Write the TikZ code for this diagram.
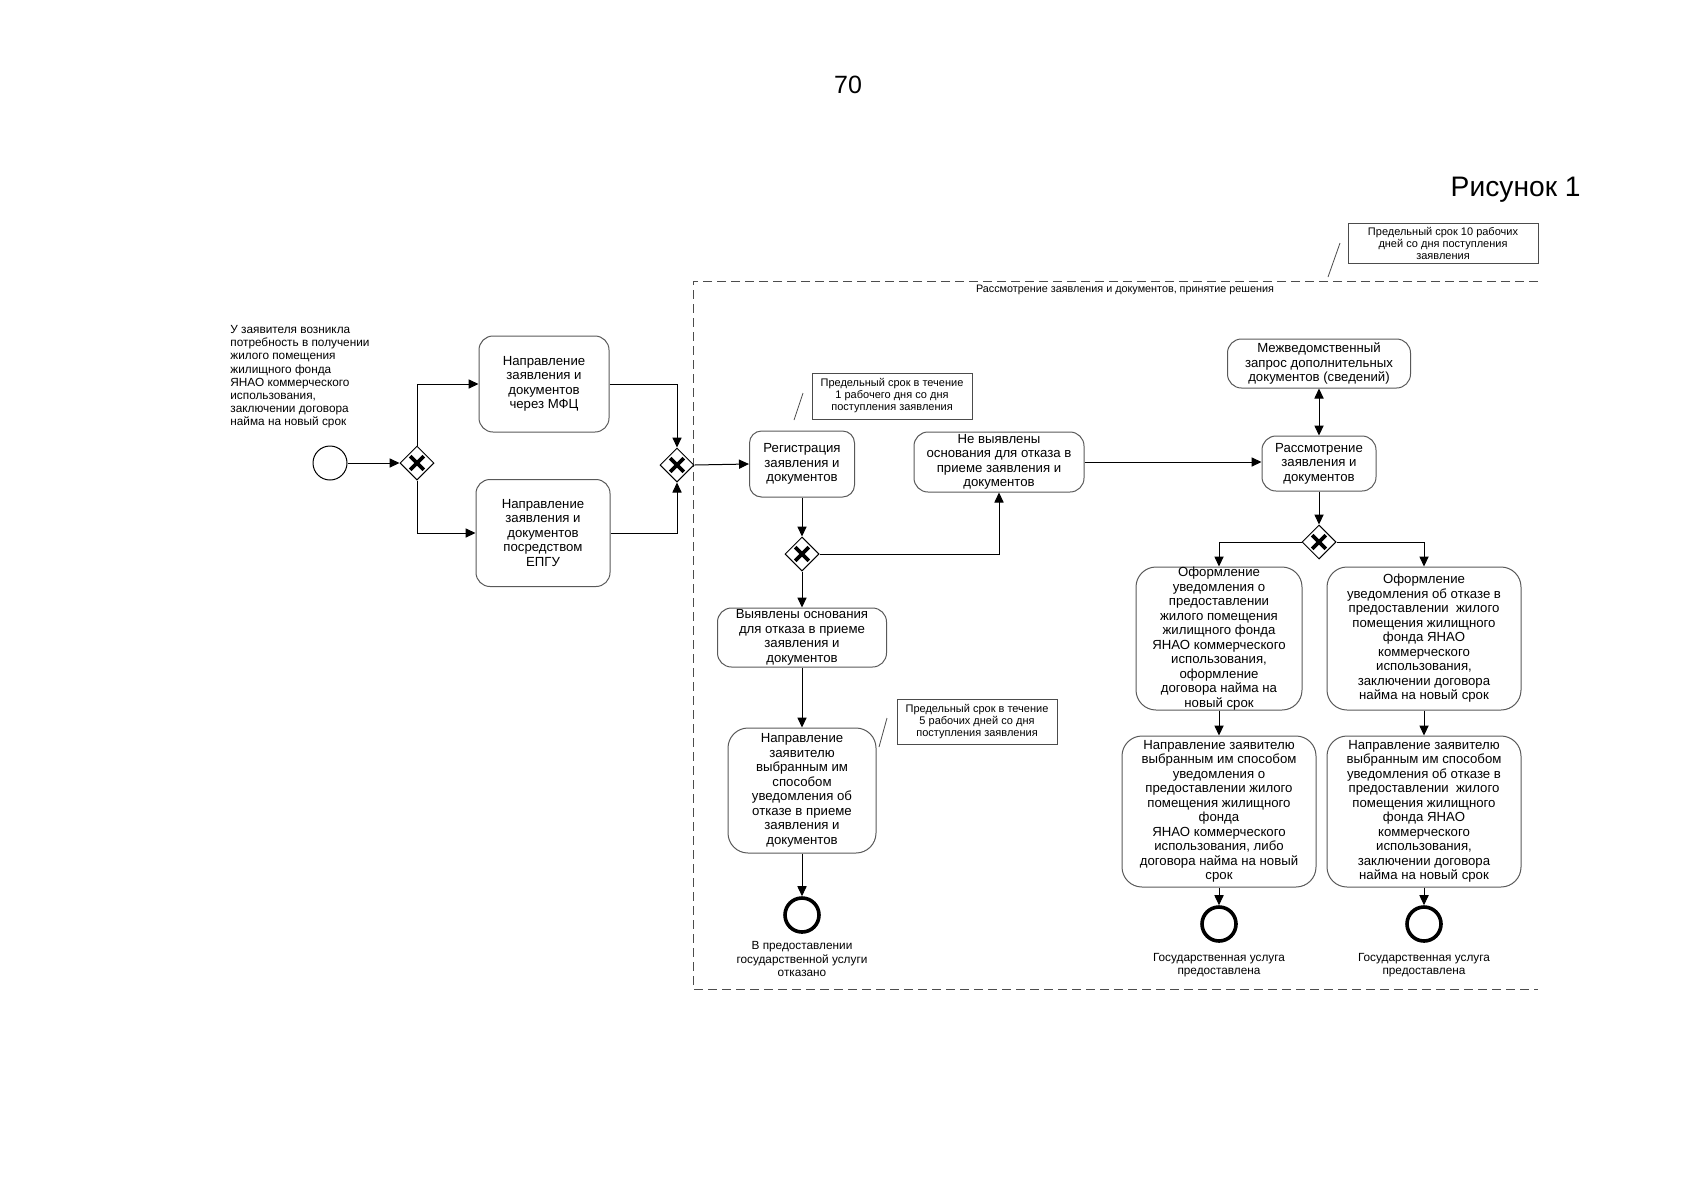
\documentclass[tikz,border=0pt]{standalone}
\usepackage{fontspec}
\setmainfont{Liberation Sans}
\usetikzlibrary{shapes.geometric,arrows.meta}
\begin{document}
\begin{tikzpicture}[x=0.5pt,y=-0.5pt,
 box/.style={draw=black!65, line width=0.5pt, rounded corners=7pt, align=center, inner sep=1pt, font=\fontsize{6.6}{7.25}\selectfont},
 bigbox/.style={box, rounded corners=10pt},
 note/.style={draw=black!70, line width=0.5pt, align=center, inner sep=1pt, font=\fontsize{5.5}{6}\selectfont},
 small/.style={align=center, inner sep=0pt, font=\fontsize{5.9}{6.6}\selectfont},
 gate/.style={draw, diamond, minimum width=17pt, minimum height=17pt, inner sep=0pt, line width=0.5pt,
   path picture={\draw[line width=1.8pt]
     ([shift={(-3.4pt,-3.4pt)}]path picture bounding box.center) -- ([shift={(3.4pt,3.4pt)}]path picture bounding box.center)
     ([shift={(-3.4pt,3.4pt)}]path picture bounding box.center) -- ([shift={(3.4pt,-3.4pt)}]path picture bounding box.center);}},
 startev/.style={circle, draw, line width=0.5pt, minimum size=17pt, inner sep=0pt},
 endev/.style={circle, draw, line width=1.8pt, minimum size=17pt, inner sep=0pt},
 arr/.style={-{Triangle[length=5pt,width=4.6pt]}, line width=0.5pt},
 darr/.style={{Triangle[length=5pt,width=4.6pt]}-{Triangle[length=5pt,width=4.6pt]}, line width=0.5pt},
 assoc/.style={draw=black!70, line width=0.4pt},
 lane/.style={draw=black!70, line width=0.5pt, dash pattern=on 4.5pt off 2.5pt},
]
\useasboundingbox (0,0) rectangle (1696,1200);

% header
\node[font=\fontsize{12.5}{14}\selectfont] (pagenum) at (848,85) {70};
\node[anchor=east, font=\fontsize{14.1}{16}\selectfont, inner sep=0pt] (fig) at (1581,190) {Рисунок 1};

% lane (dashed)
\coordinate (laneTR) at (1538,281);
\coordinate (laneTL) at (693,281);
\coordinate (laneBL) at (693,989);
\coordinate (laneBR) at (1538,989);
\draw[lane] (laneTR) -- (laneTL) -- (laneBL) -- (laneBR);
\node[small, font=\fontsize{5.4}{6.5}\selectfont] (lanetitle) at (1125,290) {Рассмотрение заявления и документов, принятие решения};

% annotation 10 days
\node[note, minimum width=95pt, minimum height=20pt] (n10) at (1443,243) {Предельный срок 10 рабочих\\дней со дня поступления\\заявления};
\coordinate (n10a) at (1340,243);
\coordinate (n10b) at (1328,277);
\draw[assoc] (n10a) -- (n10b);

% start
\node[small, anchor=north west, align=left] (starttext) at (230,325) {У заявителя возникла\\потребность в получении\\жилого помещения\\жилищного фонда\\ЯНАО коммерческого\\использования,\\заключении договора\\найма на новый срок};
\node[startev] (s) at (330,463) {};
\node[gate] (g1) at (417,463) {};
\node[box, minimum width=65pt, minimum height=48pt] (mfc) at (544,384) {Направление\\заявления и\\документов\\через МФЦ};
\node[box, minimum width=67pt, minimum height=53.5pt] (epgu) at (543,533) {Направление\\заявления и\\документов\\посредством\\ЕПГУ};
\node[gate] (g2) at (677,465) {};

\draw[arr] (s) -- (g1);
\draw[arr] (g1.north) |- (mfc.west);
\draw[arr] (g1.south) |- (epgu.west);
\draw[arr] (mfc.east) -| (g2.north);
\draw[arr] (epgu.east) -| (g2.south);

% registration
\node[box, rounded corners=6pt, minimum width=52.5pt, minimum height=33pt] (reg) at (802,464) {Регистрация\\заявления и\\документов};
\draw[arr] (g2.east) -- (reg.west);
\node[note, minimum width=80pt, minimum height=23pt] (n1) at (892,396) {Предельный срок в течение\\1 рабочего дня со дня\\поступления заявления};
\coordinate (n1a) at (803,393);
\coordinate (n1b) at (794,420);
\draw[assoc] (n1a) -- (n1b);

\node[gate] (g3) at (802,554) {};
\draw[arr] (reg.south) -- (g3.north);

\node[box, minimum width=85pt, minimum height=30pt, inner sep=0pt] (nv) at (999,462) {Не выявлены\\основания для отказа в\\приеме заявления и\\документов};
\draw[arr] (g3.east) -| (nv.south);

\node[box, minimum width=57pt, minimum height=27.5pt] (ras) at (1319,463.5) {Рассмотрение\\заявления и\\документов};
\draw[arr] (nv.east) -- (nv.east -| ras.west);
\node[box, minimum width=91.5pt, minimum height=24.5pt] (mezh) at (1319,363.5) {Межведомственный\\запрос дополнительных\\документов (сведений)};
\draw[darr] (mezh.south) -- (ras.north);

% refusal branch
\node[box, minimum width=84.5pt, minimum height=29.5pt, inner sep=0pt] (vyav) at (802,637.5) {Выявлены основания\\для отказа в приеме\\заявления и\\документов};
\draw[arr] (g3.south) -- (vyav.north);
\node[bigbox, minimum width=74pt, minimum height=62.5pt] (napr) at (802,790.5) {Направление\\заявителю\\выбранным им\\способом\\уведомления об\\отказе в приеме\\заявления и\\документов};
\draw[arr] (vyav.south) -- (napr.north);
\node[note, minimum width=80pt, minimum height=22.5pt] (n5) at (977,721.5) {Предельный срок в течение\\5 рабочих дней со дня\\поступления заявления};
\coordinate (n5a) at (887,718);
\coordinate (n5b) at (879,747);
\draw[assoc] (n5a) -- (n5b);
\node[endev] (e1) at (802,915) {};
\draw[arr] (napr.south) -- (e1.north);
\node[small] (e1t) at (802,959) {В предоставлении\\государственной услуги\\отказано};

% decision branch
\node[gate] (g4) at (1319,542) {};
\draw[arr] (ras.south) -- (g4.north);
\node[bigbox, minimum width=83pt, minimum height=71.5pt, inner sep=0pt] (ofl) at (1219,638.5) {Оформление\\уведомления о\\предоставлении\\жилого помещения\\жилищного фонда\\ЯНАО коммерческого\\использования,\\оформление\\договора найма на\\новый срок};
\node[bigbox, minimum width=97pt, minimum height=71.5pt] (ofr) at (1424,638.5) {Оформление\\уведомления об отказе в\\предоставлении\ \ жилого\\помещения жилищного\\фонда ЯНАО\\коммерческого\\использования,\\заключении договора\\найма на новый срок};
\draw[arr] (g4.west) -| (ofl.north);
\draw[arr] (g4.east) -| (ofr.north);

\node[bigbox, minimum width=97pt, minimum height=75.5pt, inner sep=0pt] (nl) at (1219,811.5) {Направление заявителю\\выбранным им способом\\уведомления о\\предоставлении жилого\\помещения жилищного\\фонда\\ЯНАО коммерческого\\использования, либо\\договора найма на новый\\срок};
\node[bigbox, minimum width=97pt, minimum height=75.5pt, inner sep=0pt] (nr) at (1424,811.5) {Направление заявителю\\выбранным им способом\\уведомления об отказе в\\предоставлении\ \ жилого\\помещения жилищного\\фонда ЯНАО\\коммерческого\\использования,\\заключении договора\\найма на новый срок};
\draw[arr] (ofl.south) -- (nl.north);
\draw[arr] (ofr.south) -- (nr.north);

\node[endev] (e2) at (1219,924) {};
\node[endev] (e3) at (1424,924) {};
\draw[arr] (nl.south) -- (e2.north);
\draw[arr] (nr.south) -- (e3.north);
\node[small] (e2t) at (1219,965.5) {Государственная услуга\\предоставлена};
\node[small] (e3t) at (1424,965.5) {Государственная услуга\\предоставлена};
\end{tikzpicture}
\end{document}
